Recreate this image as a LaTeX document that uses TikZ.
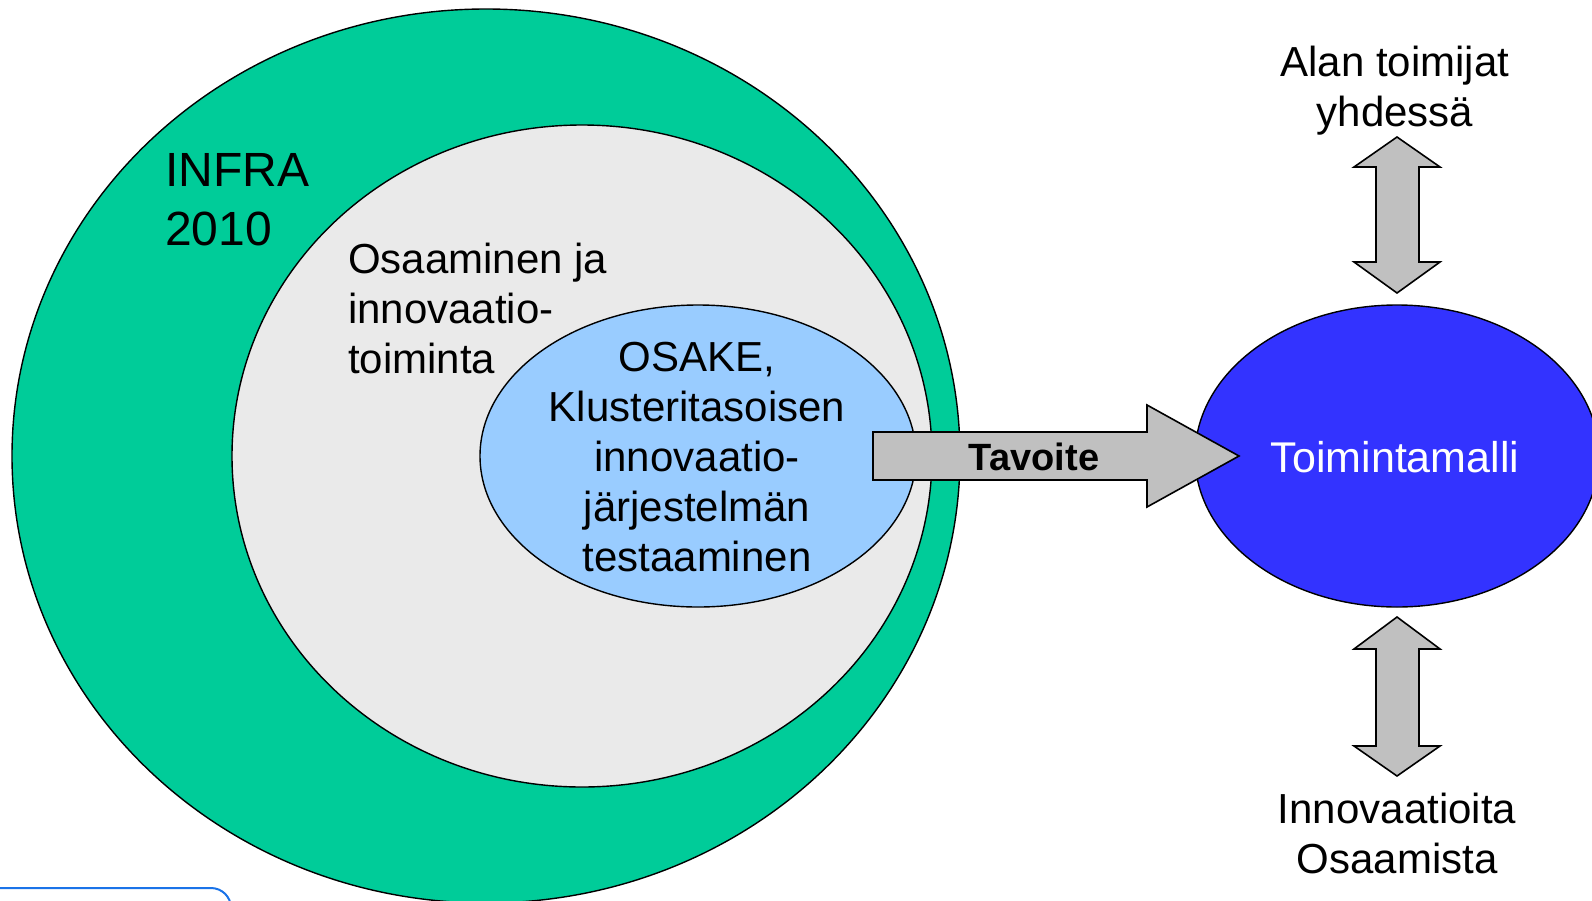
\documentclass[tikz,border=0pt]{standalone}
\usepackage{fontspec}
\setmainfont{Liberation Sans}
\usetikzlibrary{shapes.geometric}
\definecolor{infragreen}{HTML}{00CC99}
\definecolor{osagray}{HTML}{EAEAEA}
\definecolor{lightblue}{HTML}{99CCFF}
\definecolor{darkblue}{HTML}{3333FF}
\definecolor{arrowgray}{HTML}{C0C0C0}
\definecolor{frameblue}{HTML}{1A73E8}
\tikzset{
  ring/.style={ellipse, draw=black, line width=1.4pt, inner sep=0pt},
  blockarrow/.style={draw=black, fill=arrowgray, line width=1.6pt, line join=miter},
  txt/.style={inner sep=0pt, font=\fontsize{42}{50}\selectfont},
}
\begin{document}
\begin{tikzpicture}[x=1pt,y=-1pt]
\useasboundingbox (0,0) rectangle (1592,900);
% nested ellipses
\node[ring, fill=infragreen, minimum width=948pt, minimum height=894pt] (outer) at (486,456) {};
\node[ring, fill=osagray, minimum width=700pt, minimum height=662pt] (inner) at (582,456) {};
\node[ring, fill=lightblue, minimum width=436pt, minimum height=302pt] (osake) at (698,456) {};
\node[ring, fill=darkblue, minimum width=404pt, minimum height=302pt] (malli) at (1397,456) {};
% Tavoite arrow
\draw[blockarrow] (873,432) -- (1147,432) -- (1147,405) -- (1239,456) -- (1147,507) -- (1147,480) -- (873,480) -- cycle;
% vertical double arrows
\draw[blockarrow] (1397,137) -- (1440,167) -- (1419,167) -- (1419,262) -- (1440,262) -- (1397,293) -- (1354,262) -- (1376,262) -- (1376,167) -- (1354,167) -- cycle;
\draw[blockarrow] (1397,617) -- (1440,649) -- (1419,649) -- (1419,746) -- (1440,746) -- (1397,776) -- (1354,746) -- (1376,746) -- (1376,649) -- (1354,649) -- cycle;
% partial frame bottom left
\draw[frameblue, line width=2pt, rounded corners=20pt] (-20,888) -- (231,888) -- (231,940);
% texts (base anchor = baseline of the last line)
\node[inner sep=0pt, anchor=base west, align=left, font=\fontsize{48}{59}\selectfont] (infra) at (165,245) {INFRA\\2010};
\node[txt, anchor=base west, align=left] (osaam) at (348,373) {Osaaminen ja\\innovaatio-\\toiminta};
\node[txt, anchor=base, align=center] (osaketxt) at (697,571) {OSAKE,\\Klusteritasoisen\\innovaatio-\\järjestelmän\\testaaminen};
\node[txt, anchor=base, align=center] (alan) at (1395,126) {Alan toimijat\\yhdessä};
\node[txt, anchor=base, align=center] (innov) at (1397,873) {Innovaatioita\\Osaamista};
\node[inner sep=0pt, anchor=base, text=white, font=\fontsize{43}{50}\selectfont] (mallitxt) at (1395,472) {Toimintamalli};
\node[inner sep=0pt, anchor=base, font=\fontsize{38}{44}\selectfont\bfseries] (tavoite) at (1034,470) {Tavoite};
\end{tikzpicture}
\end{document}
